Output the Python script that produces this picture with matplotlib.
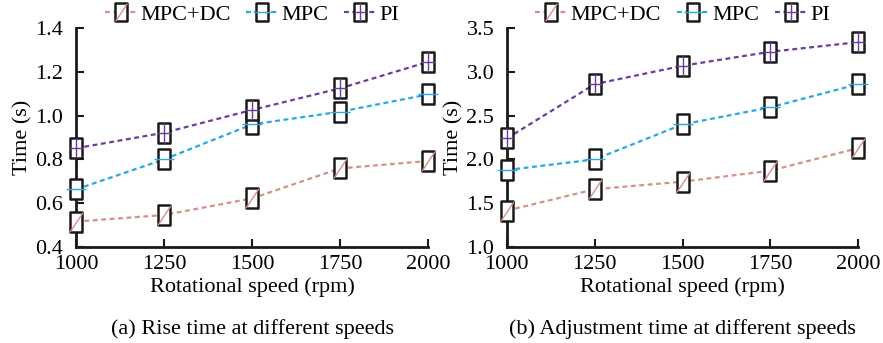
import matplotlib
matplotlib.use("Agg")
import matplotlib.pyplot as plt
from matplotlib.path import Path
from matplotlib.legend_handler import HandlerTuple

plt.rcParams['font.family'] = ['Liberation Serif', 'DejaVu Serif']

speeds = [1000, 1250, 1500, 1750, 2000]
series_names = ["MPC+DC", "MPC", "PI"]
rise_mpcdc = [0.516, 0.546, 0.622, 0.759, 0.793]
rise_mpc = [0.663, 0.800, 0.960, 1.018, 1.097]
rise_pi = [0.851, 0.922, 1.026, 1.125, 1.246]
adj_mpcdc = [1.415, 1.659, 1.746, 1.871, 2.13]
adj_mpc = [1.879, 2.00, 2.40, 2.595, 2.86]
adj_pi = [2.24, 2.86, 3.07, 3.23, 3.34]
colors = ["#d8918a", "#2aa9e0", "#6b3e9c"]

rect = Path([(-0.32, -0.5), (0.32, -0.5), (0.32, 0.5), (-0.32, 0.5), (-0.32, -0.5)],
            [Path.MOVETO, Path.LINETO, Path.LINETO, Path.LINETO, Path.CLOSEPOLY])
diag = Path([(-0.3, -0.45), (0.3, 0.45)], [Path.MOVETO, Path.LINETO])
hline = Path([(-0.32, 0.0), (0.32, 0.0)], [Path.MOVETO, Path.LINETO])
plus = Path([(-0.32, 0.0), (0.32, 0.0), (0.0, -0.45), (0.0, 0.45)],
            [Path.MOVETO, Path.LINETO, Path.MOVETO, Path.LINETO])
inner = [diag, hline, plus]

fig = plt.figure(figsize=(8.83, 3.43), dpi=100)
axA = fig.add_axes([0.086, 0.280, 0.399, 0.638])
axB = fig.add_axes([0.574, 0.280, 0.398, 0.638])

def draw(ax, data, ylim, yticks, caption):
    handles = []
    for vals, c, inn, name in zip(data, colors, inner, series_names):
        l1, = ax.plot(speeds, vals, color=c, lw=1.6, ls=(0, (2.2, 1.6)),
                      marker=rect, ms=14, mfc='white', mec='#1a1a1a', mew=1.8,
                      zorder=3, clip_on=False)
        l2, = ax.plot(speeds, vals, ls='none', marker=inn, ms=14, mec=c, mew=1.0,
                      zorder=4, clip_on=False)
        handles.append((l1, l2))
    ax.set_xlim(1000, 2000)
    ax.set_ylim(*ylim)
    ax.set_xticks(speeds)
    ax.set_yticks(yticks)
    ax.set_yticklabels([f"{t:.1f}" for t in yticks])
    for s in ['top', 'right']:
        ax.spines[s].set_visible(False)
    for s in ['left', 'bottom']:
        ax.spines[s].set_linewidth(2.0)
        ax.spines[s].set_color('#1a1a1a')
    ax.tick_params(direction='in', length=6, width=1.5, labelsize=16, color='#1a1a1a')
    ax.tick_params(axis='x', pad=6)
    ax.tick_params(axis='y', pad=9)
    ax.set_xlabel("Rotational speed (rpm)", fontsize=16, labelpad=2)
    ax.set_ylabel("Time (s)", fontsize=16, labelpad=2)
    ax.legend(handles, series_names, handler_map={tuple: HandlerTuple(ndivide=1)},
              loc='lower center', bbox_to_anchor=(0.5, 0.975), ncol=3, frameon=False,
              fontsize=16, handlelength=1.45, handletextpad=0.15, columnspacing=0.7,
              borderaxespad=0, markerscale=0.9)
    ax.text(0.5, -0.33, caption, transform=ax.transAxes, ha='center', va='top', fontsize=16)

draw(axA, [rise_mpcdc, rise_mpc, rise_pi], (0.4, 1.4), [0.4, 0.6, 0.8, 1.0, 1.2, 1.4],
     "(a) Rise time at different speeds")
draw(axB, [adj_mpcdc, adj_mpc, adj_pi], (1.0, 3.5), [1.0, 1.5, 2.0, 2.5, 3.0, 3.5],
     "(b) Adjustment time at different speeds")

fig.savefig("out.png", dpi=100)
